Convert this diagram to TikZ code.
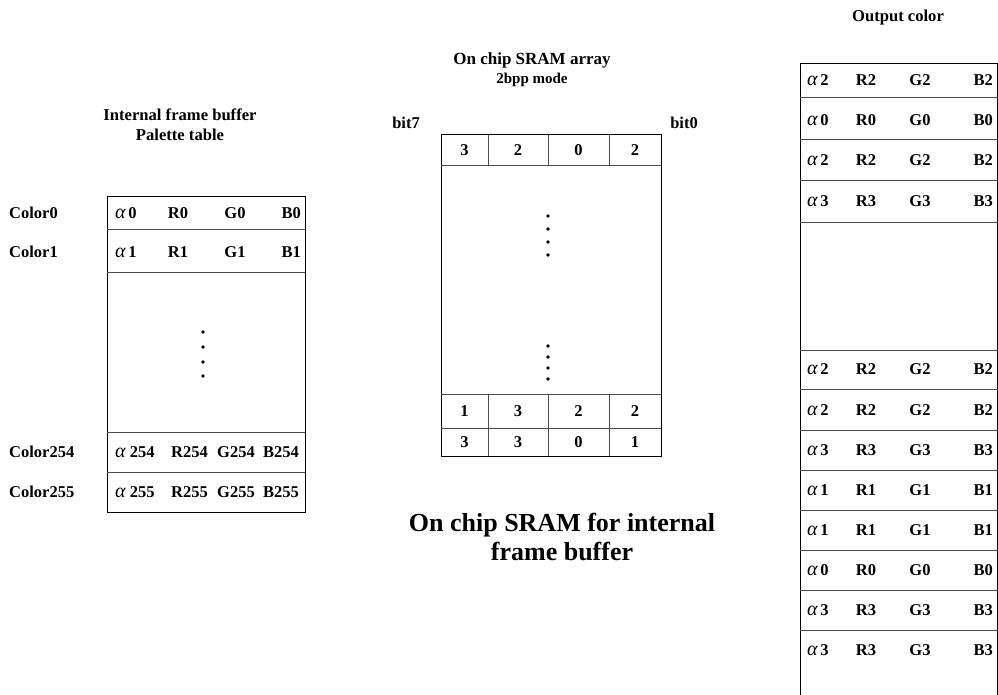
\documentclass[tikz,border=0pt]{standalone}
\usepackage{fontspec}
\setmainfont{Liberation Serif}
\newcommand\myalpha{{\mdseries\itshape\fontsize{20}{20}\selectfont α}}
\begin{document}
\begin{tikzpicture}[x=1pt,y=-1pt,
  lbl/.style={font=\bfseries\fontsize{16.5}{18}\selectfont, inner sep=0pt},
  ttl/.style={font=\bfseries\fontsize{16.6}{19}\selectfont, inner sep=0pt, align=center},
  bigcaption/.style={font=\bfseries\fontsize{26}{29}\selectfont, inner sep=0pt, align=center},
  frame/.style={line width=1pt, black},
  grid/.style={line width=1pt, black!70},
  dot/.style={circle, fill=black, inner sep=0pt, minimum size=3.8pt}]
\useasboundingbox (0,0) rectangle (998,695);

% ---------- Left: palette table ----------
\node[ttl] (t1) at (180,115) {Internal frame buffer};
\node[ttl] (t2) at (180,135) {Palette table};
\draw[frame] (107,197) rectangle (305,512);
\foreach \yy in {229,272,432,472} \draw[grid] (107,\yy) -- (305,\yy);
\node[lbl,anchor=west] (c0) at (9,213) {Color0};
\node[lbl,anchor=west] (c1) at (9,252) {Color1};
\node[lbl,anchor=west] (c254) at (9,452) {Color254};
\node[lbl,anchor=west] (c255) at (9,492) {Color255};
\foreach \n/\yy in {0/213,1/252} {
  \node[lbl,anchor=west] (pa\n) at (115,\yy) {\myalpha\,\n};
  \node[lbl] (pr\n) at (178,\yy) {R\n};
  \node[lbl] (pg\n) at (235,\yy) {G\n};
  \node[lbl,anchor=east] (pb\n) at (301,\yy) {B\n};
}
\foreach \n/\yy in {254/452,255/492} {
  \node[lbl,anchor=west] (pa\n) at (115,\yy) {\myalpha\ \n};
  \node[lbl,anchor=west] (pr\n) at (171,\yy) {R\n};
  \node[lbl,anchor=west] (pg\n) at (217,\yy) {G\n};
  \node[lbl,anchor=east] (pb\n) at (299,\yy) {B\n};
}
\foreach \yy [count=\i] in {332,347,362,376} \node[dot] (ld\i) at (203,\yy) {};

% ---------- Middle: SRAM array ----------
\node[ttl,font=\bfseries\fontsize{17}{19}\selectfont] (m1) at (532,60) {On chip SRAM array};
\node[ttl,font=\bfseries\fontsize{15}{16}\selectfont] (m2) at (532,80) {2bpp mode};
\node[lbl] (b7) at (406,123) {bit7};
\node[lbl] (b0) at (684,123) {bit0};
\draw[frame] (441,135) rectangle (661,456);
\foreach \yy in {166,394,428} \draw[grid] (441,\yy) -- (661,\yy);
\foreach \xx in {488,548,609} {
  \draw[grid] (\xx,135) -- (\xx,166);
  \draw[grid] (\xx,394) -- (\xx,456);
}
\foreach \a/\b/\c/\d/\yy/\r in {3/2/0/2/150.5/a,1/3/2/2/411/b,3/3/0/1/442/c} {
  \node[lbl] (s\r1) at (464.5,\yy) {\a};
  \node[lbl] (s\r2) at (518,\yy) {\b};
  \node[lbl] (s\r3) at (578.5,\yy) {\c};
  \node[lbl] (s\r4) at (635,\yy) {\d};
}
\foreach \yy [count=\i] in {216,229,242,255,346,357,368,379} \node[dot] (md\i) at (548,\yy) {};
\node[bigcaption] (cp) at (562,537) {On chip SRAM for internal\\frame buffer};

% ---------- Right: output color ----------
\node[ttl] (oc) at (898,18) {Output color};
\draw[frame] (800,700) -- (800,64) -- (997.5,64) -- (997.5,700);
\foreach \yy in {98,140,181,222,350,389,430,470,510,550,590,630} \draw[grid] (800,\yy) -- (997.5,\yy);
\foreach \n/\yy [count=\i] in {2/80.5,0/120,2/160.5,3/201,2/369.5,2/410,3/450,1/490,1/530,0/570,3/610,3/650} {
  \node[lbl,anchor=west] (oa\i) at (807,\yy) {\myalpha\,\n};
  \node[lbl] (or\i) at (866,\yy) {R\n};
  \node[lbl] (og\i) at (920,\yy) {G\n};
  \node[lbl,anchor=east] (ob\i) at (993,\yy) {B\n};
}
\end{tikzpicture}
\end{document}
